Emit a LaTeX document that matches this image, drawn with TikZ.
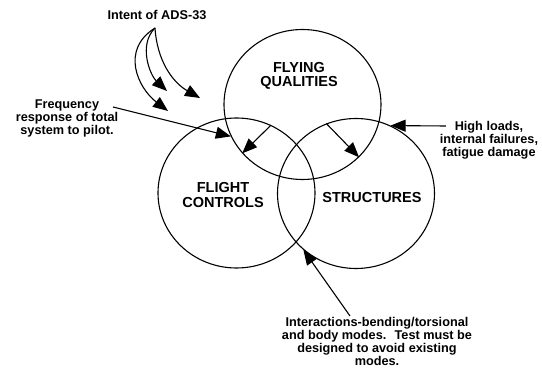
\documentclass[tikz,border=0pt]{standalone}
\usepackage{fontspec}
\setmainfont{Liberation Sans}
\usetikzlibrary{shapes.geometric, arrows.meta}

\begin{document}
\begin{tikzpicture}[x=1pt, y=-1pt, line width=1.1pt,
    ring/.style={draw, ellipse, minimum width=157pt, minimum height=150pt, inner sep=0pt},
    big/.style={font=\fontsize{14.5}{14.5}\selectfont\bfseries, align=center},
    note/.style={font=\fontsize{12.7}{13}\selectfont\bfseries, align=center},
    arr/.style={-{Triangle[length=15pt, width=12pt]}}]
    \useasboundingbox (0,0) rectangle (542,371);

    % Three areas
    \node[ring] (fq) at (302.5,104.5) {};
    \node[ring] (fc) at (236.5,193) {};
    \node[ring] (st) at (356,193.5) {};
    \node[big] (fqtext) at (299,76) {FLYING\\QUALITIES};
    \node[big] (fctext) at (223,195) {FLIGHT\\CONTROLS};
    \node[big] (sttext) at (372,198) {STRUCTURES};

    % Arrows between the areas
    \draw[arr] (fc.63) -- (fq.219);
    \draw[arr] (st.113) -- (fq.-43);

    % Intent of ADS-33
    \node[note] (intent) at (157,15) {Intent of ADS-33};
    \coordinate (src) at (155,28);
    \draw[arr] (src) .. controls (157,60) and (172,82) .. (200,98);
    \draw[arr] (src) .. controls (138,45) and (150,75) .. (167,91);
    \draw[arr] (src) .. controls (120,50) and (138,88) .. (168,111);

    % Notes
    \node[note] (freq) at (67,118) {Frequency\\response of total\\system to pilot.};
    \coordinate (freqtail) at (113,107);
    \draw[arr] (freqtail) -- (fq.204);

    \node[note] (loads) at (489,140) {High loads,\\internal failures,\\fatigue damage};
    \coordinate (loadstail) at (446,126);
    \draw[arr] (loadstail) -- (st.63);

    \node[note] (modes) at (377,341) {Interactions-bending/torsional\\and body modes.~ Test must be\\designed to avoid existing\\modes.};
    \coordinate (modestail) at (350,316);
    \draw[arr] (modestail) -- (st.227);
\end{tikzpicture}
\end{document}
